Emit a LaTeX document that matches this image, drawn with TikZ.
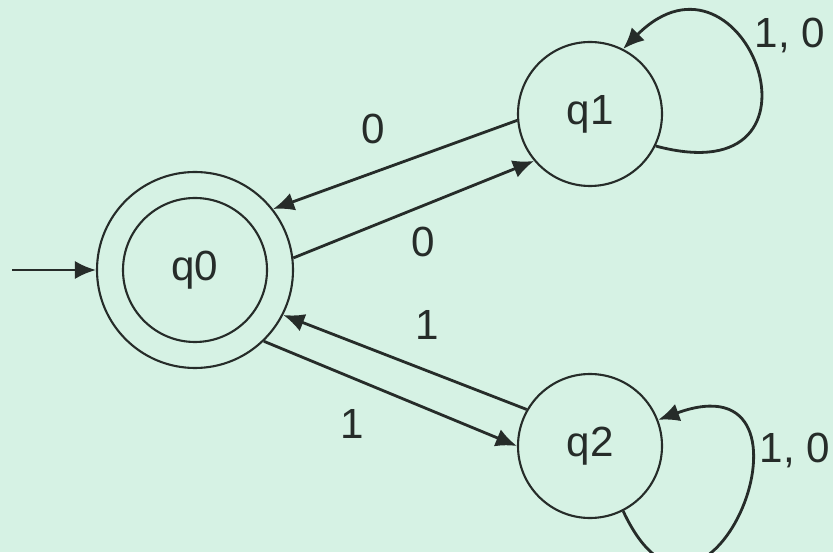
\documentclass[tikz,border=0pt]{standalone}
\usepackage{fontspec}
\setmainfont{Liberation Sans}
\usetikzlibrary{arrows.meta}
\definecolor{paper}{RGB}{214,242,228}
\definecolor{ink}{RGB}{38,44,41}
\tikzset{
  state/.style ={circle, draw=ink, line width=1.5pt, minimum size=3.6cm, inner sep=0pt,
                 text=ink, font=\fontsize{30}{36}\selectfont},
  accept/.style={state, minimum size=4.9cm},
  lbl/.style   ={text=ink, inner sep=2pt, font=\fontsize{30}{36}\selectfont},
  flow/.style  ={-{Latex[length=15pt,width=13pt]}, draw=ink, line width=2pt},
}
\begin{document}
\begin{tikzpicture}
\fill[paper] (0,0) rectangle (20.825,13.8);
\clip (0,0) rectangle (20.825,13.8);
% --- states ---
\node[accept] (q0) at (4.875,7.05) {q0};
\draw[ink, line width=1.5pt] (q0.center) circle[radius=1.8cm];
\node[state]  (q1) at (14.75,10.95) {q1};
\node[state]  (q2) at (14.75,2.65) {q2};
% --- start arrow ---
\coordinate (init) at (0.3,7.05);
\draw[flow] (init) -- (q0.west);
% --- transitions between states ---
\draw[flow] (q1.185) -- node[lbl,pos=0.59,above=0.62cm]{0} (q0.38);
\draw[flow] (q0.7)   -- node[lbl,pos=0.54,below=0.42cm]{0} (q1.220);
\draw[flow] (q2.150) -- node[lbl,pos=0.41,above=0.68cm]{1} (q0.333);
\draw[flow] (q0.314) -- node[lbl,pos=0.35,below=0.68cm]{1} (q2.180);
% --- self loops ---
\draw[flow] (q1.334) .. controls +(-15:4.9) and +(45:4.3) .. (q1.63);
\node[lbl] (l1) at (19.75,12.925) {1, 0};
\draw[flow] (q2.297) .. controls +(-65:5) and +(20:4.8) .. (q2.21);
\node[lbl] (l2) at (19.875,2.55) {1, 0};
\end{tikzpicture}
\end{document}
